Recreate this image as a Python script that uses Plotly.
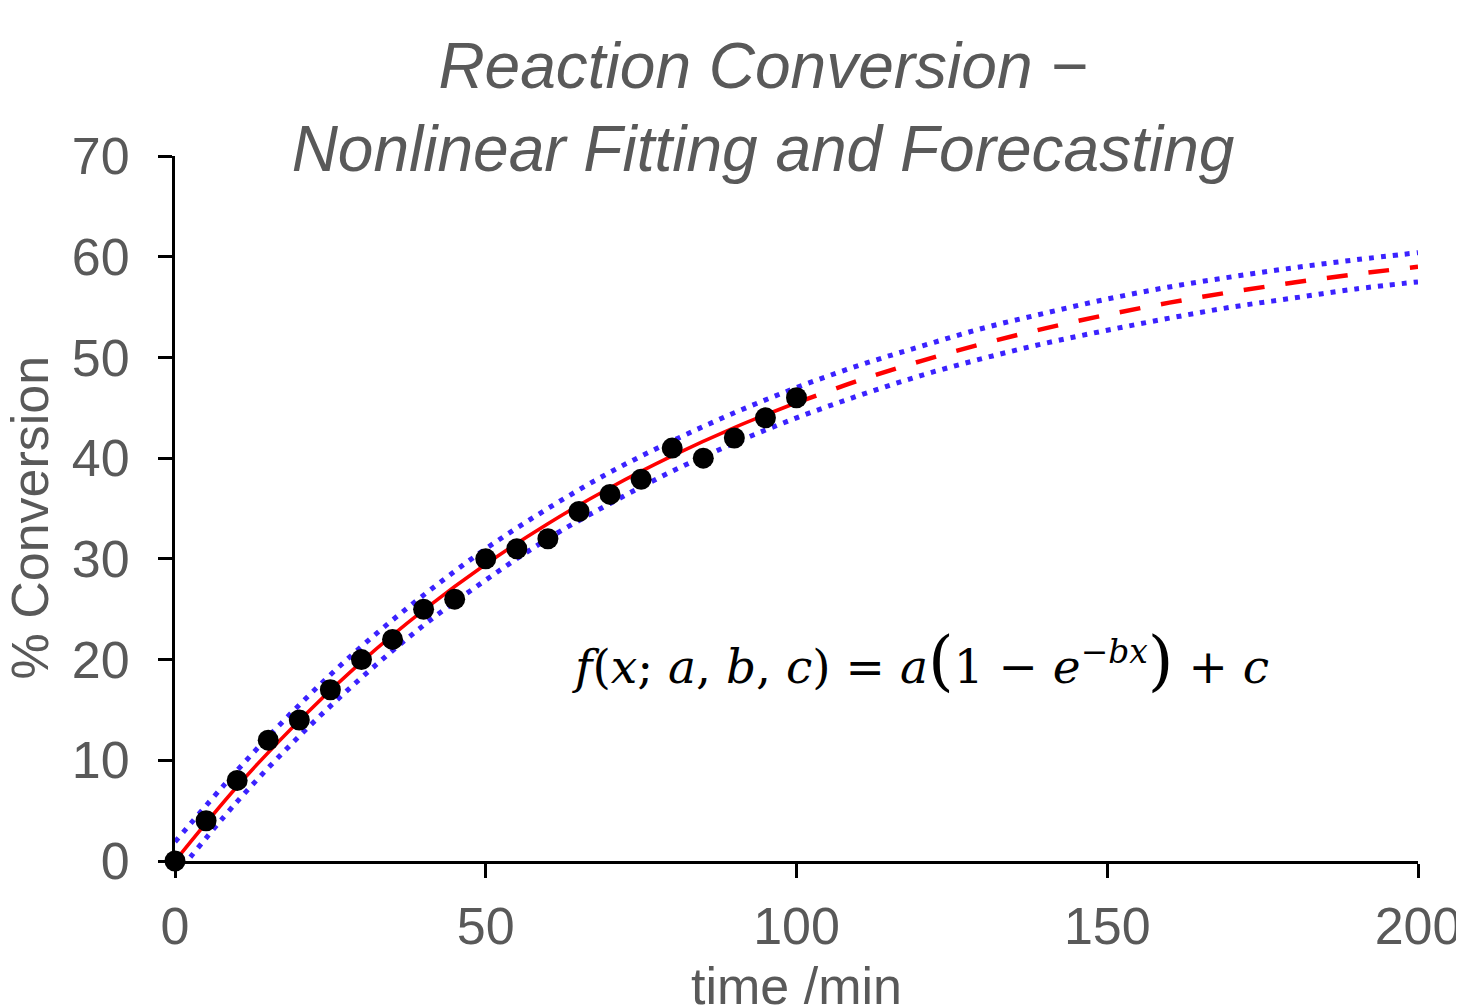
import plotly.graph_objects as go

# Measured data
time_min = [0, 5, 10, 15, 20, 25, 30, 35, 40, 45, 50, 55, 60, 65, 70, 75, 80, 85, 90, 95, 100]
conversion = [0, 4, 8, 12, 14, 17, 20, 22, 25, 26, 30, 31, 32, 34.7, 36.4, 37.9, 41, 40, 42, 44, 46]

# Fitted curve, solid over data range, dashed forecast
fit_x = [0, 10, 20, 30, 40, 50, 60, 70, 80, 90, 100]
fit_y = [0, 7.40, 13.96, 19.77, 24.90, 29.46, 33.49, 37.06, 40.22, 43.03, 45.50]
fc_x = [100, 110, 120, 130, 140, 150, 160, 170, 180, 190, 200]
fc_y = [45.50, 47.70, 49.64, 51.36, 52.89, 54.24, 55.44, 56.50, 57.43, 58.27, 59.00]

# Confidence band
band_x = [0, 10, 20, 30, 40, 50, 60, 70, 80, 90, 100, 110, 120, 130, 140, 150, 160, 170, 180, 190, 200]
band_hi = [1.9, 9.0, 15.5, 21.3, 26.4, 31.0, 35.0, 38.6, 41.7, 44.5, 47.0, 49.2, 51.1, 52.9, 54.4, 55.8, 57.0, 58.0, 58.9, 59.7, 60.4]
band_lo = [-1.5, 5.9, 12.4, 18.2, 23.4, 27.9, 32.0, 35.5, 38.7, 41.5, 44.0, 46.2, 48.2, 49.9, 51.4, 52.7, 53.9, 55.0, 55.9, 56.8, 57.5]

x_ticks = [0, 50, 100, 150, 200]
y_ticks = [0, 10, 20, 30, 40, 50, 60, 70]

GREY = "#595959"
BLUE = "#3b22ff"
RED = "#ff0000"
FONT = "Liberation Sans, Arial, sans-serif"

fig = go.Figure()

fig.add_trace(go.Scatter(x=band_x, y=band_hi, mode="lines", line=dict(color=BLUE, width=5, dash="5px,7px", shape="spline"), hoverinfo="skip"))
fig.add_trace(go.Scatter(x=band_x, y=band_lo, mode="lines", line=dict(color=BLUE, width=5, dash="5px,7px", shape="spline"), hoverinfo="skip"))
fig.add_trace(go.Scatter(x=fit_x, y=fit_y, mode="lines", line=dict(color=RED, width=3.5, shape="spline")))
fig.add_trace(go.Scatter(x=fc_x, y=fc_y, mode="lines", line=dict(color=RED, width=4.5, dash="21px,21px", shape="spline")))
fig.add_trace(go.Scatter(x=time_min, y=conversion, mode="markers", marker=dict(color="black", size=21), cliponaxis=False))

eq = ("<i>f</i>(<i>x</i>; <i>a</i>, <i>b</i>, <i>c</i>) = <i>a</i>"
      "<span style='font-size:66px'>(</span>1 − <i>e</i><sup>−<i>bx</i></sup>"
      "<span style='font-size:66px'>)</span> + <i>c</i>")
fig.add_annotation(x=120, y=19.9, xref="x", yref="y", text=eq, showarrow=False,
                   font=dict(family="DejaVu Serif, Liberation Serif, serif", size=47, color="black"),
                   xanchor="center", yanchor="middle")

# y-axis title as a rotated annotation for precise placement
fig.add_annotation(x=0, y=0.5, xref="paper", yref="paper", text="% Conversion", showarrow=False,
                   textangle=-90, xanchor="center", yanchor="middle", xshift=-146, yshift=-9,
                   font=dict(family=FONT, size=52, color=GREY))

axis_common = dict(showline=True, linecolor="black", linewidth=3, ticks="outside", ticklen=14,
                   tickwidth=3, tickcolor="black", showgrid=False, zeroline=False, automargin=False,
                   tickfont=dict(family=FONT, size=52, color=GREY))

fig.update_layout(
    width=1464, height=1007,
    margin=dict(l=167, r=54, t=148, b=154),
    paper_bgcolor="white", plot_bgcolor="white",
    showlegend=False,
    title=dict(text="<i>Reaction Conversion −<br>Nonlinear Fitting and Forecasting</i>",
               x=755 / 1464, xanchor="center", xref="container",
               y=1 - 80 / 1007, yanchor="top", yref="container", automargin=False,
               font=dict(family=FONT, size=64, color=GREY)),
    xaxis=dict(range=[0, 200], tickvals=x_ticks, ticklabelstandoff=4,
               title=dict(text="time /min", font=dict(family=FONT, size=52, color=GREY), standoff=26),
               **axis_common),
    yaxis=dict(range=[0, 70], tickvals=y_ticks, ticklabelstandoff=18, **axis_common),
)

fig.write_html("out.html", post_script="document.documentElement.style.overflow='hidden';document.body.style.overflow='hidden';")
